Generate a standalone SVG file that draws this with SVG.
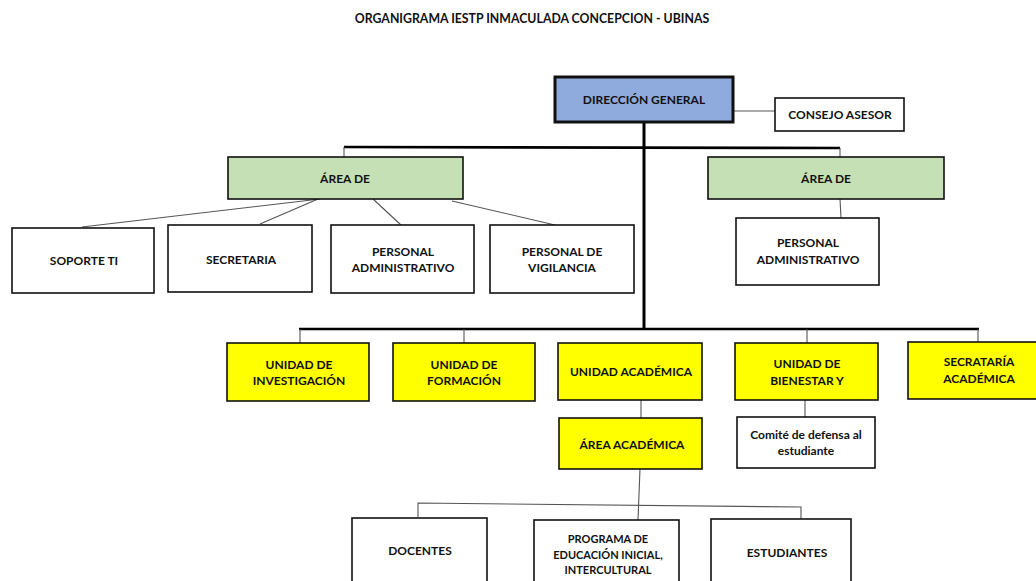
<svg xmlns="http://www.w3.org/2000/svg" width="1036" height="581" viewBox="0 0 1036 581">
<style>
text{font-family:Lato,"Open Sans","Liberation Sans",sans-serif;font-weight:bold;font-size:12px;fill:#111;text-anchor:middle;dominant-baseline:middle}
.b{fill:#fff;stroke:#111;stroke-width:1.6}
.y{fill:#ffff00;stroke:#111;stroke-width:1.6}
.g{fill:#c5e0b4;stroke:#111;stroke-width:1.6}
.thin{stroke:#555;stroke-width:1.1;fill:none}
.bus{stroke:#000;stroke-width:2.6;fill:none}
</style>
<rect width="1036" height="581" fill="#fff"/>
<text x="532" y="20" style="font-size:12.3px">ORGANIGRAMA IESTP INMACULADA CONCEPCION - UBINAS</text>
<g id="connectors">
<line class="thin" x1="733" y1="111" x2="775" y2="111"/>
<line class="bus" x1="644" y1="122" x2="644" y2="329" style="stroke-width:3"/>
<polyline class="bus" points="344,147 840,148"/>
<line class="thin" x1="344" y1="147" x2="344" y2="157"/>
<line class="thin" x1="840" y1="148" x2="840" y2="157"/>
<line class="thin" x1="320" y1="199" x2="82" y2="227"/>
<line class="thin" x1="318" y1="199" x2="260" y2="224"/>
<line class="thin" x1="373" y1="199" x2="401" y2="225"/>
<line class="thin" x1="452" y1="201" x2="555" y2="225"/>
<line class="thin" x1="840" y1="199" x2="841" y2="218"/>
<line class="bus" x1="299" y1="329" x2="979" y2="329"/>
<line class="thin" x1="300" y1="329" x2="300" y2="343"/>
<line class="thin" x1="464" y1="329" x2="464" y2="343"/>
<line class="thin" x1="807" y1="329" x2="807" y2="343"/>
<line class="thin" x1="978" y1="329" x2="978" y2="342"/>
<line class="thin" x1="641" y1="400" x2="641" y2="418"/>
<line class="thin" x1="805" y1="400" x2="805" y2="417"/>
<line class="thin" x1="640" y1="469" x2="638" y2="520"/>
<polyline class="thin" points="418,517 418,503 801,507 801,519"/>
</g>
<g id="direccion"><rect x="555" y="77" width="178" height="45" fill="#8faadc" stroke="#111" stroke-width="3"/><text x="644" y="101">DIRECCIÓN GENERAL</text></g>
<g id="consejo"><rect class="b" x="775" y="98" width="129" height="33"/><text x="840" y="116">CONSEJO ASESOR</text></g>
<g id="area1"><rect class="g" x="228" y="157" width="235" height="42"/><text x="345" y="180">ÁREA DE</text></g>
<g id="area2"><rect class="g" x="708" y="157" width="236" height="42"/><text x="826" y="180">ÁREA DE</text></g>
<g id="soporte"><rect class="b" x="12" y="228" width="142" height="65"/><text x="84" y="262">SOPORTE TI</text></g>
<g id="secretaria"><rect class="b" x="168" y="225" width="144" height="67"/><text x="241" y="261">SECRETARIA</text></g>
<g id="personal1"><rect class="b" x="331" y="225" width="143" height="68"/><text x="403" y="253">PERSONAL</text><text x="403" y="269">ADMINISTRATIVO</text></g>
<g id="vigilancia"><rect class="b" x="490" y="225" width="144" height="68"/><text x="562" y="253">PERSONAL DE</text><text x="562" y="269">VIGILANCIA</text></g>
<g id="personal2"><rect class="b" x="736" y="218" width="143" height="67"/><text x="808" y="244">PERSONAL</text><text x="808" y="261">ADMINISTRATIVO</text></g>
<g id="investigacion"><rect class="y" x="227" y="343" width="142" height="58"/><text x="299" y="366">UNIDAD DE</text><text x="299" y="382">INVESTIGACIÓN</text></g>
<g id="formacion"><rect class="y" x="393" y="343" width="142" height="58"/><text x="464" y="366">UNIDAD DE</text><text x="464" y="382">FORMACIÓN</text></g>
<g id="uacademica"><rect class="y" x="558" y="343" width="144" height="57"/><text x="631" y="373">UNIDAD ACADÉMICA</text></g>
<g id="bienestar"><rect class="y" x="735" y="343" width="143" height="57"/><text x="807" y="365">UNIDAD DE</text><text x="807" y="382">BIENESTAR Y</text></g>
<g id="secretaria-academica"><rect class="y" x="908" y="342" width="140" height="57"/><text x="979" y="363">SECRATARÍA</text><text x="979" y="380">ACADÉMICA</text></g>
<g id="area-academica"><rect class="y" x="559" y="418" width="143" height="51"/><text x="632" y="446">ÁREA ACADÉMICA</text></g>
<g id="comite"><rect class="b" x="737" y="417" width="138" height="51"/><text x="806" y="436">Comité de defensa al</text><text x="806" y="452">estudiante</text></g>
<g id="docentes"><rect class="b" x="352" y="518" width="135" height="70"/><text x="420" y="552">DOCENTES</text></g>
<g id="programa"><rect class="b" x="534" y="520" width="145" height="70"/><text x="608" y="540" style="font-size:11px">PROGRAMA DE</text><text x="608" y="556" style="font-size:11px">EDUCACIÓN INICIAL,</text><text x="608" y="571" style="font-size:11px">INTERCULTURAL</text></g>
<g id="estudiantes"><rect class="b" x="711" y="519" width="140" height="70"/><text x="787" y="554">ESTUDIANTES</text></g>
</svg>
